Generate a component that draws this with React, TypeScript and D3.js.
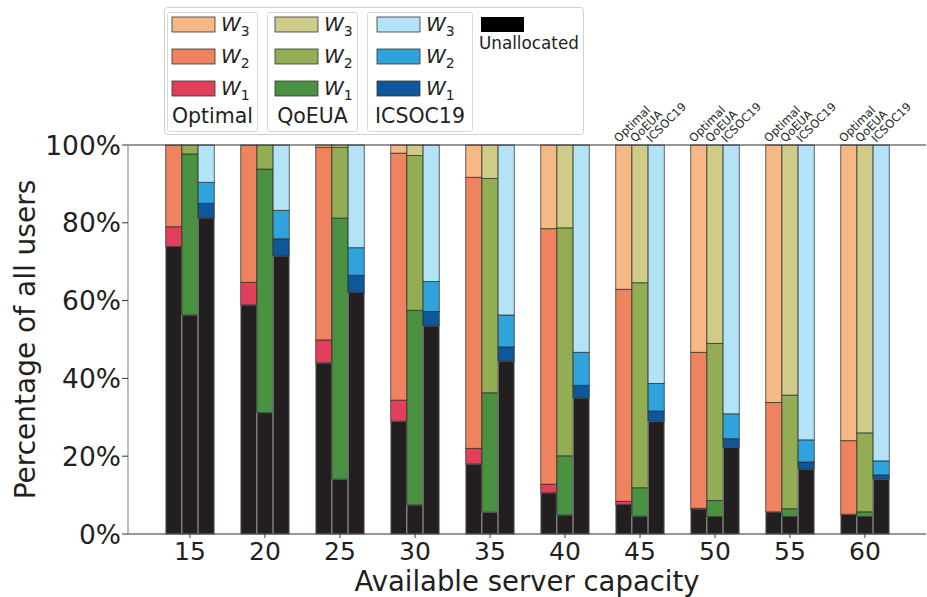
import React from "react";
import * as d3 from "d3";

const capacities = [15, 20, 25, 30, 35, 40, 45, 50, 55, 60];
const methods = ["Optimal", "QoEUA", "ICSOC19"];

const optimalUnalloc = [73.9, 58.9, 44.0, 29.0, 18.0, 10.6, 7.6, 6.3, 5.7, 5.1];
const optimalW1 = [5.1, 5.8, 5.9, 5.4, 4.0, 2.2, 0.8, 0.3, 0, 0];
const optimalW2 = [21.0, 35.3, 49.5, 63.5, 69.7, 65.7, 54.5, 40.1, 28.1, 18.9];
const optimalW3 = [0, 0, 0.6, 2.1, 8.3, 21.5, 37.1, 53.3, 66.2, 76.0];

const qoeUnalloc = [56.3, 31.2, 14.1, 7.5, 5.6, 4.9, 4.6, 4.5, 4.5, 4.5];
const qoeW1 = [41.4, 62.6, 67.1, 50.0, 30.7, 15.2, 7.3, 4.1, 2.0, 1.2];
const qoeW2 = [2.3, 6.2, 18.2, 39.8, 55.1, 58.6, 52.7, 40.4, 29.2, 20.3];
const qoeW3 = [0, 0, 0.6, 2.7, 8.6, 21.3, 35.4, 51.0, 64.3, 74.0];

const icsocUnalloc = [81.3, 71.5, 62.1, 53.5, 44.5, 35.0, 29.0, 22.3, 16.7, 14.1];
const icsocW1 = [3.7, 4.4, 4.4, 3.7, 3.6, 3.2, 2.6, 2.2, 1.8, 1.1];
const icsocW2 = [5.4, 7.3, 7.1, 7.7, 8.2, 8.5, 7.1, 6.4, 5.7, 3.6];
const icsocW3 = [9.6, 16.8, 26.4, 35.1, 43.7, 53.3, 61.3, 69.1, 75.8, 81.2];

const yTicks = [0, 20, 40, 60, 80, 100];
const topLabelGroups = [45, 50, 55, 60];

const unallocColor = "#231f20";
const optimalColors = ["#e0405a", "#ee8360", "#f6b985"];
const qoeColors = ["#4a9141", "#93ad55", "#cfcb89"];
const icsocColors = ["#0f579b", "#30a3dc", "#b3e3f7"];

const seriesData = [
  { name: "Optimal", unalloc: optimalUnalloc, w: [optimalW1, optimalW2, optimalW3], colors: optimalColors },
  { name: "QoEUA", unalloc: qoeUnalloc, w: [qoeW1, qoeW2, qoeW3], colors: qoeColors },
  { name: "ICSOC19", unalloc: icsocUnalloc, w: [icsocW1, icsocW2, icsocW3], colors: icsocColors },
];

const W = 927;
const H = 597;
const plotLeft = 128;
const plotRight = 926;
const plotTop = 145;
const plotBottom = 534;
const barW = 0.216;
const FONT = "DejaVu Sans, sans-serif";
const TXT = "#231f20";

export default function App() {
  const x = d3.scaleLinear().domain([-0.8267, 9.8133]).range([plotLeft, plotRight]);
  const y = d3.scaleLinear().domain([0, 100]).range([plotBottom, plotTop]);
  const bw = x(barW) - x(0);

  const bars: React.ReactNode[] = [];
  capacities.forEach((c, i) => {
    seriesData.forEach((s, k) => {
      const cx = x(i + (k - 1) * barW);
      const x0 = cx - bw / 2;
      let base = 0;
      const segs = [
        { v: s.unalloc[i], color: unallocColor, black: true },
        { v: s.w[0][i], color: s.colors[0], black: false },
        { v: s.w[1][i], color: s.colors[1], black: false },
        { v: s.w[2][i], color: s.colors[2], black: false },
      ];
      segs.forEach((sg, j) => {
        if (sg.v > 0) {
          const yTop = y(base + sg.v);
          const yBot = y(base);
          bars.push(
            <rect
              key={`${i}-${k}-${j}`}
              x={x0}
              y={yTop}
              width={bw}
              height={yBot - yTop}
              fill={sg.color}
              stroke={sg.black ? "#8f8f8f" : "rgba(40,40,40,0.7)"}
              strokeWidth={1}
            />
          );
        }
        base += sg.v;
      });
    });
  });

  const legendGroups = [
    { x: 167, w: 90, px: 172, colors: optimalColors, label: "Optimal" },
    { x: 267, w: 90, px: 275, colors: qoeColors, label: "QoEUA" },
    { x: 367, w: 105, px: 377, colors: icsocColors, label: "ICSOC19" },
  ];
  const legendRowsY = [17, 49, 81];

  return (
    <svg width={W} height={H} style={{ display: "block", position: "absolute", left: 0, top: 0 }} fontFamily={FONT}>
      <rect x={0} y={0} width={W} height={H} fill="#fff" />
      {bars}
      {/* spines */}
      <line x1={plotLeft} x2={plotRight} y1={plotTop} y2={plotTop} stroke="#333" strokeWidth={1.2} />
      <line x1={plotLeft} x2={plotRight} y1={plotBottom} y2={plotBottom} stroke="#333" strokeWidth={1.2} />
      <line x1={plotLeft} x2={plotLeft} y1={plotTop} y2={plotBottom} stroke="#8f8f8f" strokeWidth={1.2} />
      {/* y ticks */}
      {yTicks.map((t) => (
        <g key={`yt${t}`}>
          <line x1={plotLeft - 6} x2={plotLeft} y1={y(t)} y2={y(t)} stroke="#333" strokeWidth={1} />
          <text x={plotLeft - 7} y={y(t)} dy="0.36em" textAnchor="end" fontSize={26.5} fill={TXT}>
            {t}%
          </text>
        </g>
      ))}
      {/* x ticks */}
      {capacities.map((c, i) => (
        <g key={`xt${c}`}>
          <line x1={x(i)} x2={x(i)} y1={plotBottom} y2={plotBottom + 4} stroke="#333" strokeWidth={1} />
          <text x={x(i)} y={559.5} textAnchor="middle" fontSize={25} fill={TXT}>
            {c}
          </text>
        </g>
      ))}
      {/* top rotated labels */}
      {topLabelGroups.map((g) => {
        const i = capacities.indexOf(g);
        return methods.map((m, k) => {
          const cx = x(i + (k - 1) * barW);
          return (
            <text
              key={`tl${g}-${m}`}
              transform={`translate(${cx - 5},${plotTop - 2}) rotate(-45)`}
              fontSize={11.5}
              fill={TXT}
            >
              {m}
            </text>
          );
        });
      })}
      {/* axis labels */}
      <text x={(plotLeft + plotRight) / 2} y={591} textAnchor="middle" fontSize={27.5} fill={TXT}>
        Available server capacity
      </text>
      <text transform={`translate(35,${(plotTop + plotBottom) / 2}) rotate(-90)`} textAnchor="middle" fontSize={28} fill={TXT}>
        Percentage of all users
      </text>
      {/* legend */}
      <rect x={164.5} y={7.5} width={419} height={127} rx={3} fill="#fff" stroke="#d0d0d0" strokeWidth={1} />
      {legendGroups.map((lg) => (
        <g key={lg.label}>
          <rect x={lg.x + 0.5} y={12.5} width={lg.w} height={119} rx={2} fill="#fff" stroke="#d8d8d8" strokeWidth={1} />
          {[2, 1, 0].map((wi, r) => (
            <g key={r}>
              <rect x={lg.px} y={legendRowsY[r]} width={43} height={15} fill={lg.colors[wi]} stroke="#333" strokeWidth={0.8} />
              <text x={lg.px + 49} y={legendRowsY[r] + 14} fontSize={20} fontStyle="italic" fill={TXT}>
                W
                <tspan fontStyle="normal" fontSize={14} dy={5}>{wi + 1}</tspan>
              </text>
            </g>
          ))}
          <text x={lg.x + lg.w / 2 + 0.5} y={123} textAnchor="middle" fontSize={20.5} fill={TXT}>
            {lg.label}
          </text>
        </g>
      ))}
      <rect x={481} y={17} width={43} height={15} fill="#000" />
      <text x={479} y={49} fontSize={16.8} fill={TXT}>
        Unallocated
      </text>
    </svg>
  );
}
